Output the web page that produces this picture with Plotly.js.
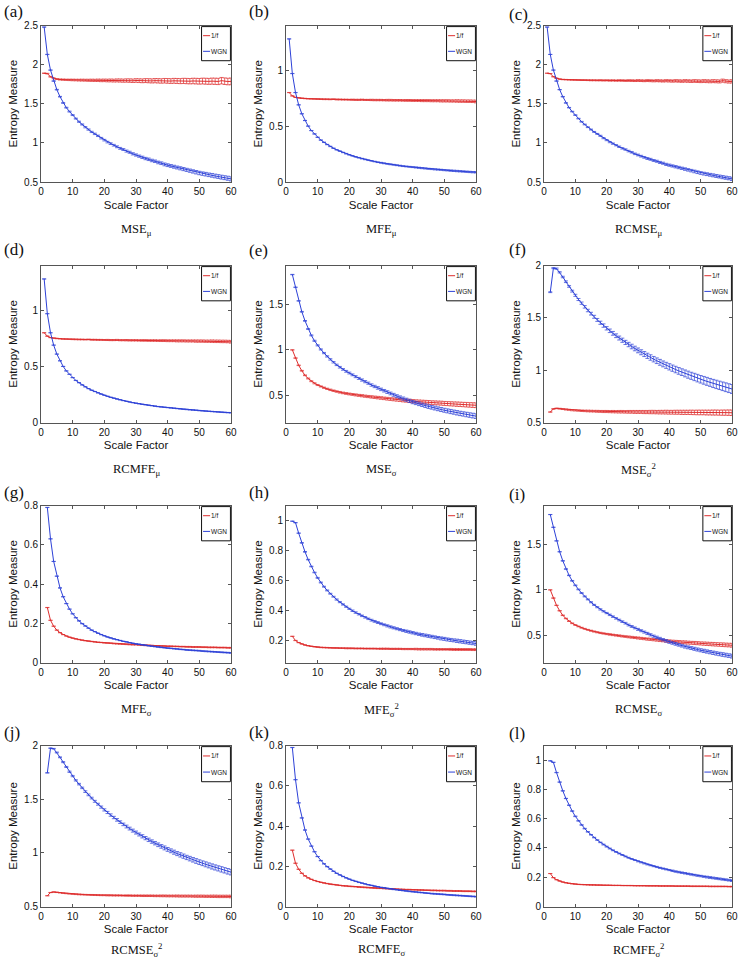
<!DOCTYPE html>
<html>
<head>
<meta charset="utf-8">
<script src="https://cdn.plot.ly/plotly-3.0.1.min.js"></script>
<style>html,body{margin:0;padding:0;background:#fff;}#chart{width:739px;height:962px;}</style>
</head>
<body>
<div id="chart"></div>
<script>
// ---------------- DATA ----------------
const scaleMu = [1,2,3,4,5,6,7,8,9,10,11,12,13,14,15,16,17,18,19,20,21,22,23,24,25,26,27,28,29,30,31,32,33,34,35,36,37,38,39,40,41,42,43,44,45,46,47,48,49,50,51,52,53,54,55,56,57,58,59,60];
const scaleSigma = [2,3,4,5,6,7,8,9,10,11,12,13,14,15,16,17,18,19,20,21,22,23,24,25,26,27,28,29,30,31,32,33,34,35,36,37,38,39,40,41,42,43,44,45,46,47,48,49,50,51,52,53,54,55,56,57,58,59,60];

const seriesNames = ['1/f', 'WGN'];

// MSE_mu / RCMSE_mu
const mseMu_wgn = [2.48,2.13,1.93,1.79,1.68,1.59,1.51,1.45,1.40,1.355,1.31,1.27,1.235,1.20,1.17,1.14,1.115,1.09,1.06,1.035,1.01,0.99,0.97,0.95,0.93,0.915,0.895,0.88,0.86,0.845,0.83,0.815,0.80,0.79,0.775,0.765,0.75,0.74,0.725,0.715,0.705,0.695,0.685,0.675,0.665,0.655,0.645,0.635,0.625,0.615,0.607,0.60,0.592,0.585,0.577,0.57,0.562,0.555,0.548,0.54];
const mseMu_1f = [1.89,1.885,1.845,1.825,1.815,1.81,1.808,1.806,1.805,1.804,1.803,1.802,1.802,1.801,1.80,1.80,1.799,1.80,1.798,1.799,1.797,1.798,1.796,1.798,1.797,1.795,1.797,1.796,1.794,1.797,1.795,1.793,1.796,1.794,1.792,1.795,1.793,1.791,1.794,1.792,1.790,1.793,1.791,1.789,1.792,1.790,1.788,1.791,1.789,1.787,1.790,1.788,1.786,1.789,1.787,1.785,1.795,1.788,1.784,1.786];

// MFE_mu / RCMFE_mu
const mfeMu_wgn = [1.28,0.97,0.80,0.69,0.61,0.55,0.50,0.46,0.43,0.40,0.375,0.355,0.335,0.318,0.302,0.288,0.276,0.264,0.253,0.243,0.234,0.225,0.217,0.209,0.202,0.195,0.189,0.183,0.177,0.172,0.167,0.162,0.158,0.154,0.150,0.146,0.142,0.139,0.136,0.133,0.130,0.127,0.124,0.121,0.118,0.116,0.113,0.111,0.109,0.106,0.104,0.102,0.100,0.098,0.096,0.094,0.092,0.090,0.088,0.087];
const mfeMu_1f = [0.80,0.77,0.757,0.752,0.749,0.747,0.745,0.744,0.743,0.742,0.741,0.740,0.740,0.739,0.741,0.738,0.738,0.737,0.737,0.736,0.736,0.735,0.735,0.736,0.734,0.734,0.734,0.733,0.733,0.733,0.732,0.732,0.732,0.731,0.731,0.731,0.730,0.730,0.730,0.729,0.729,0.729,0.728,0.728,0.728,0.727,0.727,0.727,0.726,0.726,0.726,0.725,0.725,0.725,0.724,0.724,0.723,0.723,0.722,0.720];

// MSE_sigma / RCMSE_sigma
const mseSigma_wgn = [1.83,1.69,1.54,1.42,1.32,1.23,1.16,1.10,1.05,1.005,0.965,0.928,0.895,0.864,0.835,0.809,0.785,0.764,0.745,0.725,0.705,0.686,0.668,0.65,0.633,0.613,0.597,0.581,0.565,0.55,0.535,0.52,0.505,0.49,0.477,0.464,0.451,0.438,0.425,0.415,0.405,0.395,0.385,0.375,0.367,0.359,0.351,0.343,0.335,0.328,0.321,0.314,0.307,0.30,0.294,0.288,0.282,0.276,0.27];
const mseSigma_1f = [1.00,0.91,0.83,0.77,0.72,0.685,0.655,0.632,0.613,0.597,0.583,0.571,0.56,0.55,0.541,0.533,0.526,0.52,0.514,0.509,0.504,0.499,0.495,0.49,0.486,0.482,0.478,0.474,0.47,0.466,0.462,0.458,0.455,0.451,0.448,0.444,0.441,0.438,0.435,0.432,0.429,0.427,0.424,0.422,0.419,0.417,0.415,0.413,0.41,0.408,0.406,0.404,0.402,0.40,0.398,0.396,0.394,0.392,0.39];

// MSE_sigma^2 / RCMSE_sigma^2
const mseSigma2_wgn = [1.745,1.975,1.97,1.935,1.89,1.845,1.80,1.755,1.715,1.675,1.64,1.605,1.57,1.54,1.51,1.48,1.453,1.426,1.40,1.376,1.352,1.329,1.307,1.286,1.265,1.245,1.226,1.207,1.189,1.171,1.154,1.137,1.121,1.105,1.09,1.075,1.06,1.046,1.032,1.019,1.006,0.993,0.981,0.969,0.957,0.946,0.935,0.924,0.913,0.903,0.893,0.883,0.873,0.864,0.855,0.846,0.837,0.828,0.82];
const mseSigma2_1f = [0.60,0.63,0.635,0.632,0.628,0.624,0.621,0.618,0.616,0.614,0.612,0.611,0.61,0.609,0.608,0.607,0.606,0.605,0.605,0.604,0.604,0.603,0.603,0.603,0.602,0.602,0.602,0.601,0.601,0.601,0.600,0.600,0.600,0.600,0.599,0.599,0.599,0.599,0.598,0.598,0.598,0.598,0.597,0.597,0.597,0.597,0.596,0.596,0.596,0.596,0.595,0.595,0.595,0.595,0.594,0.594,0.594,0.594,0.593];

// MFE_sigma / RCMFE_sigma
const mfeSigma_wgn = [0.79,0.63,0.515,0.44,0.38,0.335,0.30,0.272,0.248,0.228,0.212,0.198,0.186,0.175,0.165,0.157,0.149,0.142,0.136,0.130,0.125,0.120,0.116,0.112,0.108,0.105,0.101,0.098,0.095,0.093,0.090,0.088,0.085,0.083,0.081,0.079,0.077,0.075,0.073,0.072,0.070,0.069,0.067,0.066,0.064,0.063,0.062,0.061,0.060,0.058,0.057,0.056,0.055,0.054,0.053,0.052,0.051,0.050,0.049];
const mfeSigma_1f = [0.28,0.215,0.185,0.165,0.152,0.142,0.135,0.129,0.124,0.120,0.117,0.114,0.111,0.109,0.107,0.105,0.103,0.102,0.100,0.099,0.098,0.096,0.095,0.094,0.093,0.092,0.091,0.090,0.090,0.089,0.088,0.087,0.087,0.086,0.085,0.085,0.084,0.084,0.083,0.083,0.082,0.082,0.081,0.081,0.080,0.080,0.079,0.079,0.079,0.078,0.078,0.077,0.077,0.077,0.076,0.076,0.076,0.075,0.075];

// MFE_sigma^2 / RCMFE_sigma^2
const mfeSigma2_wgn = [0.995,0.985,0.915,0.85,0.79,0.738,0.692,0.652,0.616,0.585,0.557,0.532,0.51,0.49,0.471,0.454,0.438,0.423,0.409,0.396,0.384,0.373,0.362,0.352,0.342,0.333,0.325,0.317,0.309,0.302,0.295,0.288,0.282,0.276,0.270,0.264,0.259,0.254,0.249,0.244,0.239,0.235,0.231,0.227,0.223,0.219,0.215,0.211,0.208,0.204,0.201,0.198,0.195,0.192,0.189,0.186,0.183,0.180,0.177];
const mfeSigma2_1f = [0.225,0.197,0.183,0.174,0.167,0.162,0.158,0.155,0.153,0.151,0.150,0.149,0.148,0.147,0.147,0.146,0.146,0.145,0.145,0.145,0.144,0.144,0.144,0.143,0.143,0.143,0.143,0.142,0.142,0.142,0.142,0.141,0.141,0.141,0.141,0.140,0.140,0.140,0.140,0.140,0.139,0.139,0.139,0.139,0.139,0.138,0.138,0.138,0.138,0.138,0.138,0.137,0.137,0.137,0.137,0.137,0.137,0.136,0.136];

// error-bar half lengths (std), by scale 1..60
const errLarge = [0.003,0.004,0.005,0.006,0.006,0.007,0.008,0.008,0.009,0.010,0.010,0.011,0.012,0.012,0.013,0.014,0.014,0.015,0.016,0.016,0.017,0.018,0.018,0.019,0.020,0.020,0.021,0.022,0.022,0.023,0.024,0.024,0.025,0.026,0.026,0.027,0.028,0.028,0.029,0.030,0.030,0.031,0.032,0.032,0.033,0.034,0.034,0.035,0.036,0.036,0.037,0.038,0.038,0.039,0.040,0.040,0.041,0.042,0.042,0.043];
const errMedium = [0.002,0.002,0.003,0.003,0.004,0.004,0.005,0.005,0.006,0.006,0.006,0.007,0.007,0.008,0.008,0.008,0.009,0.009,0.010,0.010,0.010,0.011,0.011,0.012,0.012,0.012,0.013,0.013,0.014,0.014,0.014,0.015,0.015,0.016,0.016,0.016,0.017,0.017,0.018,0.018,0.018,0.019,0.019,0.020,0.020,0.020,0.021,0.021,0.022,0.022,0.022,0.023,0.023,0.024,0.024,0.024,0.025,0.025,0.026,0.026];
const errModerate = [0.001,0.001,0.002,0.002,0.002,0.003,0.003,0.003,0.004,0.004,0.004,0.005,0.005,0.005,0.006,0.006,0.006,0.007,0.007,0.007,0.008,0.008,0.008,0.009,0.009,0.009,0.010,0.010,0.010,0.011,0.011,0.011,0.012,0.012,0.012,0.013,0.013,0.013,0.014,0.014,0.014,0.015,0.015,0.015,0.016,0.016,0.016,0.017,0.017,0.017,0.018,0.018,0.018,0.019,0.019,0.019,0.020,0.020,0.020,0.021];
const errSmall = [0.001,0.001,0.001,0.001,0.002,0.002,0.002,0.002,0.002,0.003,0.003,0.003,0.003,0.003,0.003,0.004,0.004,0.004,0.004,0.004,0.005,0.005,0.005,0.005,0.005,0.005,0.006,0.006,0.006,0.006,0.006,0.007,0.007,0.007,0.007,0.007,0.007,0.008,0.008,0.008,0.008,0.008,0.009,0.009,0.009,0.009,0.009,0.009,0.010,0.010,0.010,0.010,0.010,0.011,0.011,0.011,0.011,0.011,0.011,0.012];
const errTiny = [0.001,0.001,0.001,0.001,0.001,0.001,0.001,0.001,0.002,0.002,0.002,0.002,0.002,0.002,0.002,0.002,0.002,0.002,0.003,0.003,0.003,0.003,0.003,0.003,0.003,0.003,0.003,0.003,0.003,0.004,0.004,0.004,0.004,0.004,0.004,0.004,0.004,0.004,0.004,0.004,0.005,0.005,0.005,0.005,0.005,0.005,0.005,0.005,0.005,0.005,0.005,0.006,0.006,0.006,0.006,0.006,0.006,0.006,0.006,0.006];
const errMinute = [0.0005,0.0005,0.0005,0.0005,0.0005,0.0005,0.0005,0.0005,0.0005,0.0005,0.001,0.001,0.001,0.001,0.001,0.001,0.001,0.001,0.001,0.001,0.001,0.001,0.001,0.001,0.001,0.001,0.001,0.001,0.001,0.001,0.0015,0.0015,0.0015,0.0015,0.0015,0.0015,0.0015,0.0015,0.0015,0.0015,0.0015,0.0015,0.0015,0.0015,0.0015,0.002,0.002,0.002,0.002,0.002,0.002,0.002,0.002,0.002,0.002,0.002,0.002,0.002,0.002,0.002];

// tick labels
const ticks_05_25 = [0.5,1,1.5,2,2.5];
const ticks_0_1 = [0,0.5,1];
const ticks_05_15 = [0.5,1,1.5];
const ticks_05_2 = [0.5,1,1.5,2];
const ticks_0_08 = [0,0.2,0.4,0.6,0.8];
const ticks_02_1 = [0.2,0.4,0.6,0.8,1];
const ticks_0_1b = [0,0.2,0.4,0.6,0.8,1];
const xTicks = [0,10,20,30,40,50,60];

const panelLetters = ['(a)','(b)','(c)','(d)','(e)','(f)','(g)','(h)','(i)','(j)','(k)','(l)'];
const panelCaptions = ['MSE<sub>μ</sub>','MFE<sub>μ</sub>','RCMSE<sub>μ</sub>','RCMFE<sub>μ</sub>','MSE<sub>σ</sub>','MSE<sub>σ</sub><sup>2</sup>','MFE<sub>σ</sub>','MFE<sub>σ</sub><sup>2</sup>','RCMSE<sub>σ</sub>','RCMSE<sub>σ</sub><sup>2</sup>','RCMFE<sub>σ</sub>','RCMFE<sub>σ</sub><sup>2</sup>'];

// ---------------- PANELS ----------------
const panels = [
  {x:scaleMu, red:mseMu_1f, blue:mseMu_wgn, eR:errLarge, eB:errMedium, yr:[0.5,2.5], tv:ticks_05_25},
  {x:scaleMu, red:mfeMu_1f, blue:mfeMu_wgn, eR:errSmall, eB:errTiny, yr:[0,1.4], tv:ticks_0_1},
  {x:scaleMu, red:mseMu_1f, blue:mseMu_wgn, eR:errModerate, eB:errModerate, yr:[0.5,2.5], tv:ticks_05_25},
  {x:scaleMu, red:mfeMu_1f, blue:mfeMu_wgn, eR:errSmall, eB:errMinute, yr:[0,1.4], tv:ticks_0_1},
  {x:scaleSigma, red:mseSigma_1f, blue:mseSigma_wgn, eR:errMedium, eB:errMedium, yr:[0.2,1.93], tv:ticks_05_15},
  {x:scaleSigma, red:mseSigma2_1f, blue:mseSigma2_wgn, eR:errMedium, eB:errLarge, yr:[0.5,2], tv:ticks_05_2},
  {x:scaleSigma, red:mfeSigma_1f, blue:mfeSigma_wgn, eR:errMinute, eB:errMinute, yr:[0,0.8], tv:ticks_0_08},
  {x:scaleSigma, red:mfeSigma2_1f, blue:mfeSigma2_wgn, eR:errTiny, eB:errSmall, yr:[0.05,1.1], tv:ticks_02_1},
  {x:scaleSigma, red:mseSigma_1f, blue:mseSigma_wgn, eR:errModerate, eB:errModerate, yr:[0.2,1.93], tv:ticks_05_15},
  {x:scaleSigma, red:mseSigma2_1f, blue:mseSigma2_wgn, eR:errSmall, eB:errMedium, yr:[0.5,2], tv:ticks_05_2},
  {x:scaleSigma, red:mfeSigma_1f, blue:mfeSigma_wgn, eR:errMinute, eB:errMinute, yr:[0,0.8], tv:ticks_0_08},
  {x:scaleSigma, red:mfeSigma2_1f, blue:mfeSigma2_wgn, eR:errMinute, eB:errTiny, yr:[0,1.1], tv:ticks_0_1b}
];

// ---------------- LAYOUT GEOMETRY (px) ----------------
const W = 739, H = 962;
const colX = [[41,231],[286,476],[544,732]];
const rowY = [[25.5,182],[265.5,422.5],[505.5,662.5],[745.5,906.5]];
const letterPos = [[2,11],[247,11],[507,14],[2,249],[247,251],[507,250],[2,492],[247,492],[507,495],[2,732],[247,732],[507,733]];
const captionY = [230,470,710,950];

const RED = 'rgb(222,45,45)';
const BLUE = 'rgb(45,65,215)';
const AXC = '#555';
const SANS = 'Liberation Sans, Arial, sans-serif';
const SERIF = 'Liberation Serif, Times New Roman, serif';

const data = [];
const layout = {
  width: W, height: H,
  margin: {l:0, r:0, t:0, b:0},
  paper_bgcolor: '#fff', plot_bgcolor: '#fff',
  showlegend: false,
  font: {family: SANS, size: 10, color: '#111'},
  shapes: [], annotations: []
};

panels.forEach((p, i) => {
  const n = i + 1;
  const s = n === 1 ? '' : String(n);
  const col = i % 3, row = Math.floor(i / 3);
  const xd = [colX[col][0] / W, colX[col][1] / W];
  const yd = [1 - rowY[row][1] / H, 1 - rowY[row][0] / H];
  const off = p.x.length === 60 ? 0 : 1;
  const eR = p.eR.slice(off), eB = p.eB.slice(off);

  data.push({
    type: 'scatter', mode: 'lines', name: seriesNames[0],
    x: p.x, y: p.red, xaxis: 'x' + s, yaxis: 'y' + s,
    line: {color: RED, width: 1},
    error_y: {type: 'data', array: eR, visible: true, color: RED, thickness: 0.7, width: 2}
  });
  data.push({
    type: 'scatter', mode: 'lines', name: seriesNames[1],
    x: p.x, y: p.blue, xaxis: 'x' + s, yaxis: 'y' + s,
    line: {color: BLUE, width: 1},
    error_y: {type: 'data', array: eB, visible: true, color: BLUE, thickness: 0.7, width: 2}
  });

  layout['xaxis' + s] = {
    domain: xd, anchor: 'y' + s, range: [0, 60],
    tickmode: 'array', tickvals: xTicks,
    ticks: 'inside', ticklen: 3, tickcolor: AXC, tickwidth: 1,
    showline: true, linecolor: AXC, linewidth: 1, mirror: 'ticks',
    showgrid: false, zeroline: false, ticklabeloverflow: 'allow',
    tickfont: {size: 10, family: SANS, color: '#111'},
    title: {text: 'Scale Factor', font: {size: 11.5, family: SANS, color: '#111'}, standoff: 4}
  };
  layout['yaxis' + s] = {
    domain: yd, anchor: 'x' + s, range: p.yr,
    tickmode: 'array', tickvals: p.tv,
    ticks: 'inside', ticklen: 3, tickcolor: AXC, tickwidth: 1,
    showline: true, linecolor: AXC, linewidth: 1, mirror: 'ticks',
    showgrid: false, zeroline: false, ticklabeloverflow: 'allow',
    tickfont: {size: 10, family: SANS, color: '#111'},
    title: {text: 'Entropy Measure', font: {size: 11.5, family: SANS, color: '#111'}, standoff: 4}
  };

  // legend box (MATLAB-style, small, top right inside axes)
  const xr = 'x' + s + ' domain', yr = 'y' + s + ' domain';
  layout.shapes.push({type: 'rect', xref: xr, yref: yr, x0: 0.845, x1: 0.997, y0: 0.775, y1: 0.993,
    line: {color: '#111', width: 1}, fillcolor: '#fff', layer: 'above'});
  layout.shapes.push({type: 'line', xref: xr, yref: yr, x0: 0.853, x1: 0.89, y0: 0.935, y1: 0.935,
    line: {color: RED, width: 1}});
  layout.shapes.push({type: 'line', xref: xr, yref: yr, x0: 0.853, x1: 0.89, y0: 0.835, y1: 0.835,
    line: {color: BLUE, width: 1}});
  layout.annotations.push({xref: xr, yref: yr, x: 0.89, y: 0.935, xanchor: 'left', yanchor: 'middle',
    text: seriesNames[0], showarrow: false, borderpad: 0, font: {size: 6.5, family: SANS, color: '#111'}});
  layout.annotations.push({xref: xr, yref: yr, x: 0.89, y: 0.835, xanchor: 'left', yanchor: 'middle',
    text: seriesNames[1], showarrow: false, borderpad: 0, font: {size: 6.5, family: SANS, color: '#111'}});

  // panel letter
  layout.annotations.push({xref: 'paper', yref: 'paper', x: letterPos[i][0] / W, y: 1 - letterPos[i][1] / H,
    xanchor: 'left', yanchor: 'middle', text: panelLetters[i], showarrow: false,
    font: {size: 17, family: SERIF, color: '#111'}});
  // caption
  layout.annotations.push({xref: 'paper', yref: 'paper', x: (colX[col][0] + colX[col][1]) / 2 / W,
    y: 1 - captionY[row] / H, xanchor: 'center', yanchor: 'middle', text: panelCaptions[i], showarrow: false,
    font: {size: 12.5, family: SERIF, color: '#111'}});
});

Plotly.newPlot('chart', data, layout, {displayModeBar: false, staticPlot: true});
</script>
</body>
</html>
